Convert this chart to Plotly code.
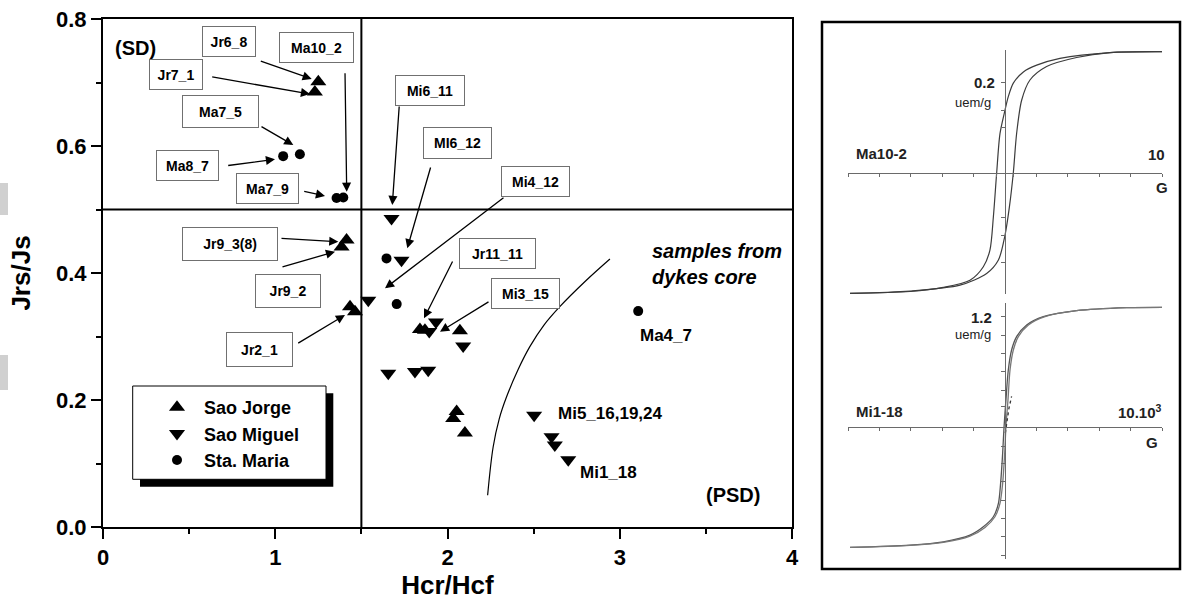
import plotly.graph_objects as go

W, H = 1182, 600

# ---------------- data ----------------
jorge_x = [1.250, 1.230, 1.414, 1.385, 1.434, 1.463, 1.840, 1.869, 2.072, 2.053, 2.033, 2.101]
jorge_y = [0.701, 0.685, 0.452, 0.441, 0.347, 0.339, 0.311, 0.310, 0.309, 0.182, 0.171, 0.148]

miguel_x = [1.675, 1.733, 1.540, 1.894, 1.933, 2.091, 1.656, 1.811, 1.888, 2.503, 2.604, 2.623, 2.701]
miguel_y = [0.486, 0.420, 0.357, 0.308, 0.323, 0.285, 0.242, 0.245, 0.247, 0.176, 0.142, 0.129, 0.106]

maria_x = [1.143, 1.046, 1.356, 1.395, 1.646, 1.705, 3.107]
maria_y = [0.587, 0.584, 0.518, 0.519, 0.423, 0.351, 0.340]

boundary_x = [2.233, 2.265, 2.300, 2.343, 2.410, 2.478, 2.560, 2.652, 2.800, 2.943]
boundary_y = [0.050, 0.126, 0.170, 0.205, 0.248, 0.284, 0.318, 0.347, 0.387, 0.422]

# hysteresis loop Ma10-2 (field x10^3 G, magnetisation uem/g)
ma_desc_h = [10.02, 6.69, 3.50, 2.02, 1.17, 0.53, 0.21, 0.00, -0.32, -0.53, -0.74, -0.96, -1.38, -2.23, -3.93, -6.05, -9.87]
ma_desc_m = [0.269, 0.267, 0.254, 0.239, 0.224, 0.199, 0.169, 0.139, 0.087, 0.000, -0.098, -0.172, -0.209, -0.239, -0.255, -0.264, -0.268]
ma_asc_h = [-9.87, -6.05, -2.87, -1.17, -0.42, 0.00, 0.28, 0.53, 0.74, 1.06, 1.59, 2.65, 4.56, 6.69, 10.02]
ma_asc_m = [-0.268, -0.263, -0.250, -0.224, -0.194, -0.139, -0.076, 0.000, 0.087, 0.161, 0.206, 0.236, 0.256, 0.267, 0.269]

# hysteresis loop Mi1-18
mi_desc_h = [10.02, 7.75, 4.56, 2.44, 1.38, 0.74, 0.42, 0.21, 0.06, -0.06, -0.15, -0.28, -0.42, -0.74, -1.38, -2.23, -3.93, -6.05, -9.87]
mi_desc_m = [1.302, 1.298, 1.265, 1.200, 1.109, 0.982, 0.836, 0.618, 0.291, 0.000, -0.291, -0.618, -0.836, -0.982, -1.091, -1.182, -1.255, -1.291, -1.316]
mi_asc_h = [-9.87, -6.05, -3.93, -2.23, -1.27, -0.64, -0.32, -0.15, -0.02, 0.06, 0.19, 0.32, 0.53, 0.85, 1.49, 2.55, 4.56, 7.75, 10.02]
mi_asc_m = [-1.316, -1.294, -1.262, -1.193, -1.098, -0.982, -0.836, -0.618, -0.291, 0.000, 0.291, 0.618, 0.836, 0.982, 1.109, 1.200, 1.265, 1.298, 1.302]
mi_init_h = [0.02, 0.12, 0.25, 0.42]
mi_init_m = [-0.07, 0.05, 0.20, 0.33]

x_ticks = [0, 1, 2, 3, 4]
y_ticks = [0.0, 0.2, 0.4, 0.6, 0.8]

legend_names = ["Sao Jorge", "Sao Miguel", "Sta. Maria"]

boxed_labels = ["Jr6_8", "Ma10_2", "Jr7_1", "Ma7_5", "Ma8_7", "Ma7_9", "Jr9_3(8)", "Jr9_2", "Jr2_1",
                "Mi6_11", "MI6_12", "Mi4_12", "Jr11_11", "Mi3_15"]

# ---------------- helpers (pixel -> paper) ----------------
def fx(px):
    return px / W

def fy(py):
    return 1 - py / H

def dx(px):
    return (px - 103) / 172.25

def dy(py):
    return (527 - py) / 635.0

FONT = "Liberation Sans"

fig = go.Figure()

fig.add_trace(go.Scatter(x=jorge_x, y=jorge_y, mode="markers", name=legend_names[0],
                         marker=dict(symbol="triangle-up", size=14, color="black"),
                         xaxis="x", yaxis="y", legendgroup="a"))
fig.add_trace(go.Scatter(x=miguel_x, y=miguel_y, mode="markers", name=legend_names[1],
                         marker=dict(symbol="triangle-down", size=14, color="black"),
                         xaxis="x", yaxis="y", legendgroup="b"))
fig.add_trace(go.Scatter(x=maria_x, y=maria_y, mode="markers", name=legend_names[2],
                         marker=dict(symbol="circle", size=10, color="black"),
                         xaxis="x", yaxis="y", legendgroup="c"))
fig.add_trace(go.Scatter(x=boundary_x, y=boundary_y, mode="lines", showlegend=False,
                         line=dict(color="black", width=1.2, shape="spline"), xaxis="x", yaxis="y"))

loopc = "#3c3c3c"
fig.add_trace(go.Scatter(x=ma_desc_h, y=ma_desc_m, mode="lines", showlegend=False,
                         line=dict(color=loopc, width=1.2, shape="spline", smoothing=0.8), xaxis="x2", yaxis="y2"))
fig.add_trace(go.Scatter(x=ma_asc_h, y=ma_asc_m, mode="lines", showlegend=False,
                         line=dict(color=loopc, width=1.2, shape="spline", smoothing=0.8), xaxis="x2", yaxis="y2"))
fig.add_trace(go.Scatter(x=mi_desc_h, y=mi_desc_m, mode="lines", showlegend=False,
                         line=dict(color="#555555", width=1.3, shape="spline", smoothing=0.8), xaxis="x3", yaxis="y3"))
fig.add_trace(go.Scatter(x=mi_asc_h, y=mi_asc_m, mode="lines", showlegend=False,
                         line=dict(color="#777777", width=1.3, shape="spline", smoothing=0.8), xaxis="x3", yaxis="y3"))
fig.add_trace(go.Scatter(x=mi_init_h, y=mi_init_m, mode="lines", showlegend=False,
                         line=dict(color="#333333", width=1.3, dash="dot"), xaxis="x3", yaxis="y3"))

tickfont = dict(family=FONT, size=22, color="black", weight="bold")
axis_common = dict(showline=True, linewidth=2, linecolor="black", mirror=True,
                   ticks="outside", ticklen=10, tickwidth=2, tickcolor="black",
                   showgrid=False, zeroline=False, tickfont=tickfont)

hyst_x = dict(anchor="free", domain=[fx(848), fx(1162)], range=[-10, 10],
              showline=True, linewidth=1, linecolor="#6a6a6a", showgrid=False, zeroline=False,
              ticks="outside", ticklen=3, tickwidth=1, tickcolor="#6a6a6a", showticklabels=False)

fig.update_layout(
    width=W, height=H,
    margin=dict(l=0, r=0, t=0, b=0),
    paper_bgcolor="white", plot_bgcolor="rgba(0,0,0,0)",
    xaxis=dict(domain=[fx(103), fx(792)], range=[0, 4], tickvals=x_ticks,
               minor=dict(dtick=0.5, ticklen=5, tickwidth=2, ticks="outside", tickcolor="black"),
               title=dict(text="Hcr/Hcf", font=dict(family=FONT, size=26, color="black", weight="bold"), standoff=7),
               anchor="y", automargin=False, **axis_common),
    yaxis=dict(domain=[fy(527), fy(19)], range=[0, 0.8], tickvals=y_ticks, tickformat=".1f",
               minor=dict(dtick=0.1, ticklen=5, tickwidth=2, ticks="outside", tickcolor="black"),
               title=dict(text="Jrs/Js", font=dict(family=FONT, size=26, color="black", weight="bold"), standoff=18),
               anchor="x", automargin=False, **axis_common),
    xaxis2=dict(position=fy(172.7), tickvals=[-10, -8, -6, -4, -2, -0.53, 0.53, 2, 4, 6, 8, 10], **hyst_x),
    yaxis2=dict(anchor="free", position=fx(1005), domain=[fy(294), fy(50)],
                range=[(172.7 - 294) / 450, (172.7 - 50) / 450],
                showline=True, linewidth=1, linecolor="#6a6a6a", showgrid=False, zeroline=False,
                ticks="outside", ticklen=4, tickwidth=1, tickcolor="#6a6a6a", showticklabels=False,
                tickvals=[-0.2, -0.139, -0.1, 0.1, 0.139, 0.2]),
    xaxis3=dict(position=fy(426.7), tickvals=[-10, -8, -6, -4, -2, 2, 4, 6, 8, 10], **hyst_x),
    yaxis3=dict(anchor="free", position=fx(1005), domain=[fy(559), fy(303)],
                range=[(426.7 - 559) / 91.7, (426.7 - 303) / 91.7],
                showline=True, linewidth=1, linecolor="#6a6a6a", showgrid=False, zeroline=False,
                ticks="outside", ticklen=4, tickwidth=1, tickcolor="#6a6a6a", showticklabels=False,
                tickvals=[-1.4, -1.2, -1.0, -0.8, -0.6, -0.4, -0.218, 0.218, 0.4, 0.6, 0.8, 1.0, 1.2]),
    showlegend=True,
    legend=dict(x=fx(150), y=fy(389), xanchor="left", yanchor="top",
                bgcolor="rgba(0,0,0,0)", borderwidth=0, itemwidth=44, tracegroupgap=0,
                font=dict(family=FONT, size=18, color="black", weight="bold")),
)

shapes = []
# legend shadow + box
shapes.append(dict(type="rect", xref="paper", yref="paper", x0=fx(140), x1=fx(333.3), y0=fy(486.7), y1=fy(393.3),
                   fillcolor="black", line=dict(width=0), layer="above"))
shapes.append(dict(type="rect", xref="paper", yref="paper", x0=fx(132.7), x1=fx(326), y0=fy(479.3), y1=fy(386),
                   fillcolor="white", line=dict(color="black", width=1), layer="above"))
# quadrant lines
shapes.append(dict(type="line", xref="x", yref="y", x0=1.5, x1=1.5, y0=0, y1=0.8, line=dict(color="black", width=2)))
shapes.append(dict(type="line", xref="x", yref="y", x0=0, x1=4, y0=0.5, y1=0.5, line=dict(color="black", width=2)))
# right panel frame
shapes.append(dict(type="rect", xref="paper", yref="paper", x0=fx(822), x1=fx(1180), y0=fy(569), y1=fy(22),
                   line=dict(color="black", width=2.5), fillcolor="rgba(0,0,0,0)"))
# faint grey blocks at left margin
shapes.append(dict(type="rect", xref="paper", yref="paper", x0=0, x1=fx(8), y0=fy(215), y1=fy(183),
                   fillcolor="#d0d0d0", line=dict(width=0)))
shapes.append(dict(type="rect", xref="paper", yref="paper", x0=0, x1=fx(8), y0=fy(390), y1=fy(355),
                   fillcolor="#d0d0d0", line=dict(width=0)))
fig.update_layout(shapes=shapes)

ann = []
# boxed labels: (text, center px x, center px y, width, height)
boxes = [
    (boxed_labels[0], 229.0, 41.3, 54, 31),
    (boxed_labels[1], 316.7, 47.0, 75, 31),
    (boxed_labels[2], 176.2, 74.7, 54, 31),
    (boxed_labels[3], 220.3, 111.7, 77, 33),
    (boxed_labels[4], 187.7, 165.0, 63, 31),
    (boxed_labels[5], 267.2, 188.7, 63, 31),
    (boxed_labels[6], 229.5, 243.7, 96, 34),
    (boxed_labels[7], 288.0, 291.2, 66, 34),
    (boxed_labels[8], 259.3, 349.2, 67, 35),
    (boxed_labels[9], 430.0, 90.5, 70, 31),
    (boxed_labels[10], 457.3, 143.2, 69, 32),
    (boxed_labels[11], 535.3, 181.2, 69, 31),
    (boxed_labels[12], 497.0, 253.8, 77, 31),
    (boxed_labels[13], 525.3, 293.3, 69, 31),
]
for t, cx, cy, bw, bh in boxes:
    ann.append(dict(text=t, xref="paper", yref="paper", x=fx(cx), y=fy(cy), xanchor="center", yanchor="middle",
                    showarrow=False, bgcolor="white", bordercolor="#707070", borderwidth=1, borderpad=0,
                    width=bw - 2, height=bh - 2,
                    font=dict(family=FONT, size=14, color="black", weight="bold")))

# arrows: (tail px x, tail px y, head px x, head px y)
arrows = [
    (259.3, 60.7, 311.7, 79.0),
    (210.7, 76.7, 310.0, 94.0),
    (345.0, 71.7, 346.7, 191.7),
    (260.0, 125.7, 293.3, 145.0),
    (226.7, 165.7, 275.0, 159.3),
    (302.7, 191.0, 325.0, 196.0),
    (280.0, 238.3, 338.3, 241.7),
    (281.0, 267.3, 335.0, 251.7),
    (296.7, 344.0, 345.0, 315.0),
    (399.3, 105.0, 392.3, 205.0),
    (431.0, 166.0, 407.3, 248.3),
    (505.0, 196.7, 385.0, 288.3),
    (453.3, 260.0, 424.0, 318.3),
    (490.0, 301.0, 440.0, 331.7),
]
for tx, ty, hx, hy in arrows:
    ann.append(dict(text="", x=dx(hx), y=dy(hy), ax=dx(tx), ay=dy(ty), xref="x", yref="y",
                    axref="x", ayref="y", showarrow=True, arrowhead=2, arrowsize=1.4, arrowwidth=1.3,
                    arrowcolor="black", standoff=0, startstandoff=0))

bold17 = dict(family=FONT, size=17, color="black", weight="bold")
ann.append(dict(text="(SD)", xref="paper", yref="paper", x=fx(113), y=fy(48), xanchor="left", yanchor="middle",
                showarrow=False, font=dict(family=FONT, size=20, color="black", weight="bold")))
ann.append(dict(text="(PSD)", xref="paper", yref="paper", x=fx(704), y=fy(495), xanchor="left", yanchor="middle",
                showarrow=False, font=dict(family=FONT, size=20, color="black", weight="bold")))
ann.append(dict(text="Ma4_7", xref="paper", yref="paper", x=fx(638), y=fy(335), xanchor="left", yanchor="middle",
                showarrow=False, font=bold17))
ann.append(dict(text="Mi5_16,19,24", xref="paper", yref="paper", x=fx(556), y=fy(413.5), xanchor="left", yanchor="middle",
                showarrow=False, font=bold17))
ann.append(dict(text="Mi1_18", xref="paper", yref="paper", x=fx(578), y=fy(472.5), xanchor="left", yanchor="middle",
                showarrow=False, font=bold17))
ann.append(dict(text="samples from<br>dykes core", xref="paper", yref="paper", x=fx(650), y=fy(264), xanchor="left",
                yanchor="middle", align="left", showarrow=False,
                font=dict(family=FONT, size=20, color="black", weight="bold", style="italic")))

# right panel texts
rp_bold = dict(family=FONT, size=15, color="#222222", weight="bold")
rp_reg = dict(family=FONT, size=13, color="#222222")
ann += [
    dict(text="0.2", x=fx(997), y=fy(83), xanchor="right", yanchor="middle", font=rp_bold),
    dict(text="uem/g", x=fx(993), y=fy(102), xanchor="right", yanchor="middle", font=rp_reg),
    dict(text="Ma10-2", x=fx(854), y=fy(154), xanchor="left", yanchor="middle", font=rp_bold),
    dict(text="10", x=fx(1167), y=fy(155), xanchor="right", yanchor="middle", font=rp_bold),
    dict(text="G", x=fx(1162), y=fy(187), xanchor="center", yanchor="middle", font=rp_bold),
    dict(text="1.2", x=fx(994), y=fy(317), xanchor="right", yanchor="middle", font=rp_bold),
    dict(text="uem/g", x=fx(993), y=fy(334), xanchor="right", yanchor="middle", font=rp_reg),
    dict(text="Mi1-18", x=fx(854), y=fy(411), xanchor="left", yanchor="middle", font=rp_bold),
    dict(text="10.10<sup>3</sup>", x=fx(1164), y=fy(411), xanchor="right", yanchor="middle", font=rp_bold),
    dict(text="G", x=fx(1152), y=fy(442), xanchor="center", yanchor="middle", font=rp_bold),
]
for a in ann[-10:]:
    a.update(xref="paper", yref="paper", showarrow=False)

fig.update_layout(annotations=ann)
fig.write_html("out.html", config={"displayModeBar": False},
               post_script="document.body.style.margin='0px';document.body.style.padding='0px';")
